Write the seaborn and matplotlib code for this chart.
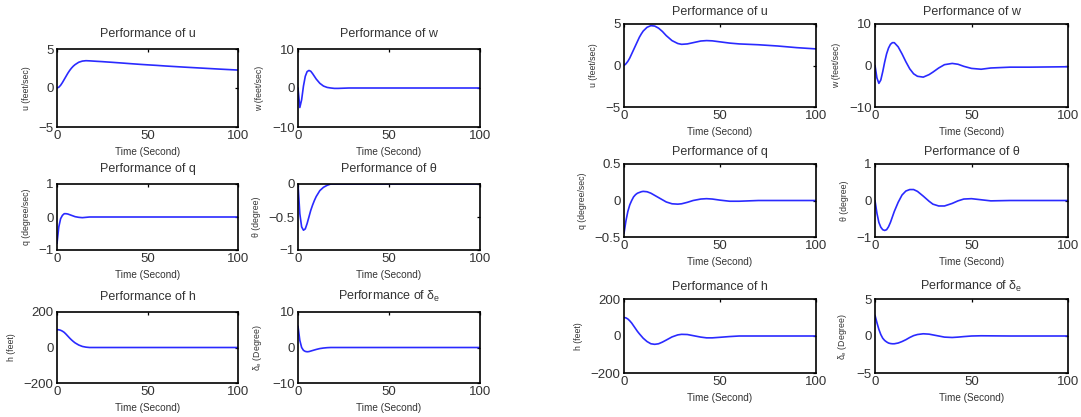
import matplotlib
matplotlib.use("Agg")
import matplotlib.pyplot as plt
import seaborn as sns
import numpy as np

# ---------------- data ----------------
t = [0, 1, 2, 3, 4, 5, 6, 7, 8, 9, 10, 12, 14, 16, 18, 20, 22, 25, 28, 30,
     33, 36, 40, 43, 46, 50, 55, 60, 70, 80, 90, 100]

# left group
u_a = [0, 0.1, 0.35, 0.7, 1.1, 1.5, 1.9, 2.25, 2.55, 2.8, 3.0, 3.3, 3.45, 3.5, 3.48, 3.45,
       3.42, 3.38, 3.33, 3.3, 3.25, 3.2, 3.13, 3.08, 3.03, 2.97, 2.9, 2.82, 2.68, 2.55, 2.42, 2.3]
w_a = [0, -5, -3, 0.5, 3, 4.2, 4.5, 4.3, 3.7, 3.0, 2.3, 1.2, 0.5, 0.15, 0.0, -0.1,
       -0.1, -0.05, 0, 0, 0, 0, 0, 0, 0, 0, 0, 0, 0, 0, 0, 0]
q_a = [-0.8, -0.3, -0.05, 0.05, 0.1, 0.1, 0.09, 0.07, 0.05, 0.03, 0.01, -0.01, -0.02, -0.01, 0, 0,
       0, 0, 0, 0, 0, 0, 0, 0, 0, 0, 0, 0, 0, 0, 0, 0]
th_a = [0, -0.45, -0.65, -0.7, -0.68, -0.6, -0.5, -0.4, -0.32, -0.25, -0.19, -0.1, -0.05, -0.02, 0, 0,
        0, 0, 0, 0, 0, 0, 0, 0, 0, 0, 0, 0, 0, 0, 0, 0]
h_a = [100, 100, 97, 92, 85, 75, 64, 53, 43, 34, 26, 14, 6, 2, 0, 0,
       0, 0, 0, 0, 0, 0, 0, 0, 0, 0, 0, 0, 0, 0, 0, 0]
de_a = [6, 2, 0, -0.8, -1.1, -1.2, -1.15, -1.0, -0.85, -0.7, -0.55, -0.3, -0.15, -0.05, 0, 0,
        0, 0, 0, 0, 0, 0, 0, 0, 0, 0, 0, 0, 0, 0, 0, 0]

# right group
u_b = [0, 0.2, 0.5, 0.9, 1.4, 1.9, 2.4, 2.9, 3.4, 3.8, 4.15, 4.6, 4.8, 4.75, 4.5, 4.1,
       3.6, 3.0, 2.65, 2.55, 2.6, 2.75, 2.95, 3.0, 2.97, 2.85, 2.7, 2.6, 2.5, 2.35, 2.15, 2.0]
w_b = [0, -3, -4.3, -3.5, -1.5, 0.8, 2.8, 4.2, 5.1, 5.5, 5.5, 4.5, 2.8, 0.9, -0.8, -2.0,
       -2.6, -2.8, -2.2, -1.6, -0.6, 0.2, 0.5, 0.3, -0.2, -0.7, -0.9, -0.6, -0.4, -0.4, -0.35, -0.3]
q_b = [-0.45, -0.28, -0.15, -0.06, 0.0, 0.05, 0.08, 0.1, 0.11, 0.12, 0.125, 0.12, 0.1, 0.07, 0.04, 0.01,
       -0.02, -0.045, -0.05, -0.045, -0.025, 0.0, 0.02, 0.025, 0.02, 0.005, -0.01, -0.01, 0, 0, 0, 0]
th_b = [0, -0.35, -0.6, -0.73, -0.8, -0.82, -0.8, -0.72, -0.6, -0.45, -0.3, -0.05, 0.15, 0.26, 0.3, 0.3,
        0.25, 0.12, -0.02, -0.1, -0.15, -0.15, -0.08, -0.01, 0.04, 0.05, 0.02, -0.01, 0, 0, 0, 0]
h_b = [100, 98, 92, 82, 70, 55, 40, 25, 12, 0, -12, -30, -42, -45, -42, -33,
       -22, -5, 6, 9, 8, 2, -6, -10, -10, -7, -3, 0, 0, 0, 0, 0]
de_b = [2.8, 1.8, 0.9, 0.2, -0.3, -0.6, -0.8, -0.95, -1.02, -1.05, -1.05, -0.95, -0.75, -0.5, -0.2, 0.05,
        0.2, 0.3, 0.25, 0.15, 0.0, -0.15, -0.2, -0.15, -0.08, 0, 0.03, 0.02, 0, 0, 0, 0]

titles = ["Performance of u", "Performance of w", "Performance of q",
          "Performance of \u03b8", "Performance of h", "Performance of $\\delta_e$"]
ylabels = ["u (feet/sec)", "w (feet/sec)", "q (degree/sec)",
           "\u03b8 (degree)", "h (feet)", "$\\delta_e$ (Degree)"]
xlabel = "Time (Second)"
xticks = [0, 50, 100]
yticks_a = [[-5, 0, 5], [-10, 0, 10], [-1, 0, 1], [-1, -0.5, 0], [-200, 0, 200], [-10, 0, 10]]
yticks_b = [[-5, 0, 5], [-10, 0, 10], [-0.5, 0, 0.5], [-1, 0, 1], [-200, 0, 200], [-5, 0, 5]]
ytlabels_a = [["\u22125", "0", "5"], ["\u221210", "0", "10"], ["\u22121", "0", "1"],
              ["\u22121", "\u22120.5", "0"], ["\u2212200", "0", "200"], ["\u221210", "0", "10"]]
ytlabels_b = [["\u22125", "0", "5"], ["\u221210", "0", "10"], ["\u22120.5", "0", "0.5"],
              ["\u22121", "0", "1"], ["\u2212200", "0", "200"], ["\u22125", "0", "5"]]

series_a = [u_a, w_a, q_a, th_a, h_a, de_a]
series_b = [u_b, w_b, q_b, th_b, h_b, de_b]

# ---------------- style ----------------
sns.set_theme(style="white")
plt.rcParams["font.family"] = ["Liberation Sans", "DejaVu Sans"]
plt.rcParams["mathtext.fontset"] = "custom"
plt.rcParams["mathtext.rm"] = "Liberation Sans"
plt.rcParams["mathtext.it"] = "Liberation Sans"
TXT = "#333333"

fig = plt.figure(figsize=(10.81, 4.17), dpi=100)

W, H = 1081.0, 417.0
def rect(x0, x1, y0, y1):
    return [x0 / W, (H - y1) / H, (x1 - x0) / W, (y1 - y0) / H]

cols_a = [(57, 238), (298, 480)]
rows_a = [(49, 127), (184, 250), (312, 383)]
cols_b = [(624, 816), (875, 1068)]
rows_b = [(24, 107), (164, 237), (299, 373)]

def draw(group, cols, rows, yticks, ytl, title_pad):
    for i, ys in enumerate(group):
        r, c = divmod(i, 2)
        ax = fig.add_axes(rect(cols[c][0], cols[c][1], rows[r][0], rows[r][1]))
        sns.lineplot(x=t, y=ys, ax=ax, color="#2a2aff", linewidth=1.2)
        ax.set_xlim(0, 100)
        ax.set_ylim(yticks[i][0], yticks[i][-1])
        ax.set_xticks(xticks)
        ax.set_xticklabels([str(v) for v in xticks], fontsize=9.5, color=TXT)
        ax.set_yticks(yticks[i])
        ax.set_yticklabels(ytl[i], fontsize=9.5, color=TXT)
        ax.tick_params(direction="in", length=2.5, width=0.9, top=True, right=True,
                       pad=2.5, colors="black", labelcolor=TXT)
        for s in ax.spines.values():
            s.set_linewidth(1.2)
            s.set_color("black")
            s.set_visible(True)
        ax.set_title(titles[i], fontsize=9, color=TXT, pad=title_pad)
        ax.set_xlabel(xlabel, fontsize=7.2, color=TXT, labelpad=3.5)
        ax.set_ylabel(ylabels[i], fontsize=6.3, color=TXT, labelpad=5.5)

draw(series_a, cols_a, rows_a, yticks_a, ytlabels_a, 8.5)
draw(series_b, cols_b, rows_b, yticks_b, ytlabels_b, 6.5)

fig.savefig("out.png", dpi=100)
